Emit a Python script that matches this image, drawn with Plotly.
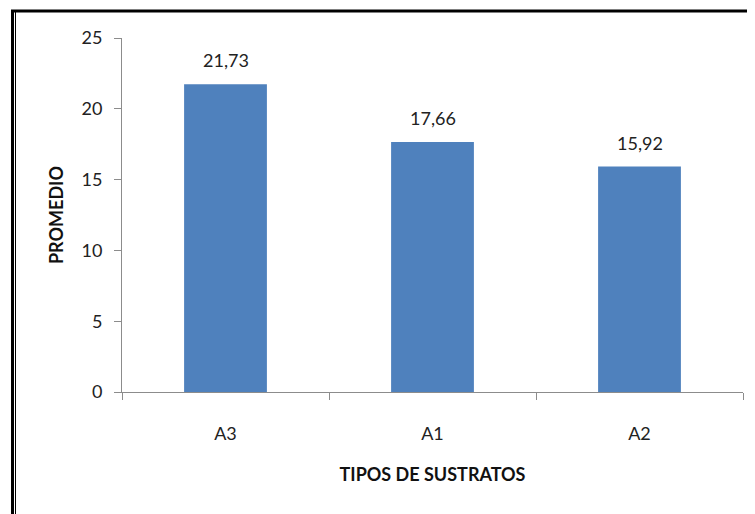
import plotly.graph_objects as go

categories = ["A3", "A1", "A2"]
values = [21.73, 17.66, 15.92]
y_ticks = [0, 5, 10, 15, 20, 25]

OFF = 8  # page body margin
W, H = 755 - OFF, 514 - OFF
L, R, T, B = 122 - OFF, 12, 38 - OFF, 122
pw, ph = W - L - R, H - T - B

def px(x):
    return (x - OFF - L) / pw

def py(y):
    return (H - B - (y - OFF)) / ph

FONT = "Lato, Open Sans, sans-serif"

fig = go.Figure(go.Bar(
    x=categories, y=values,
    marker=dict(color="#4F81BD", line=dict(width=0)),
))

for c, v in zip(categories, values):
    fig.add_annotation(
        x=c, y=v, xref="x", yref="y",
        text=f"{v:.2f}".replace(".", ","),
        showarrow=False, yanchor="bottom", yshift=11,
        font=dict(family=FONT, size=18, color="#222"),
    )

fig.update_layout(
    width=W, height=H,
    margin=dict(l=L, r=R, t=T, b=B),
    plot_bgcolor="white", paper_bgcolor="white",
    bargap=0.6,
    showlegend=False,
    font=dict(family=FONT, color="#222"),
    shapes=[
        dict(type="line", xref="paper", yref="paper", x0=px(12.5), x1=px(12.5), y0=py(10), y1=py(530),
             line=dict(color="black", width=3)),
        dict(type="line", xref="paper", yref="paper", x0=px(15.5), x1=px(15.5), y0=py(12), y1=py(530),
             line=dict(color="black", width=1)),
        dict(type="line", xref="paper", yref="paper", x0=px(11), x1=px(770), y0=py(11), y1=py(11),
             line=dict(color="black", width=3)),
    ],
)

fig.update_xaxes(
    type="category", tickson="boundaries",
    showline=True, linecolor="#8c8c8c", linewidth=1,
    ticks="outside", ticklen=7, tickcolor="#8c8c8c",
    tickfont=dict(size=18, color="#222"),
    ticklabelstandoff=25,
    showgrid=False,
    title=dict(text="<b>TIPOS DE SUSTRATOS</b>", font=dict(size=18, color="#111"), standoff=25),
)
fig.update_yaxes(
    range=[0, 25], tickvals=y_ticks,
    showline=True, linecolor="#8c8c8c", linewidth=1,
    ticks="outside", ticklen=7, tickcolor="#8c8c8c",
    tickfont=dict(size=18, color="#222"),
    ticklabelstandoff=8,
    showgrid=False, zeroline=False,
    title=dict(text="<b>PROMEDIO</b>", font=dict(size=18, color="#111"), standoff=13),
)

fig.write_html("out.html")
